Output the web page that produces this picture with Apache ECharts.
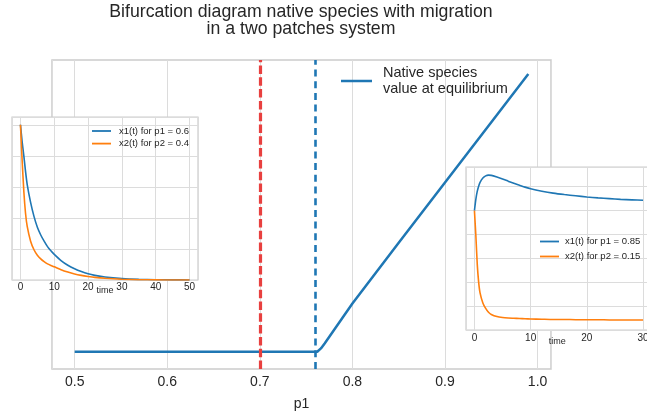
<!DOCTYPE html>
<html>
<head>
<meta charset="utf-8">
<script src="https://cdn.jsdelivr.net/npm/echarts@6/dist/echarts.min.js"></script>
<style>
html,body{margin:0;padding:0;background:#fff;}
#chart{width:647px;height:411px;}
</style>
</head>
<body>
<div id="chart"></div>
<script>
// ---- Main bifurcation data ----
const p1Values = [0.5, 0.55, 0.6, 0.65, 0.7, 0.75, 0.762, 0.766, 0.77, 0.8, 0.85, 0.9, 0.95, 0.99];
const equilibriumValues = [0, 0, 0, 0, 0, 0, 0, 0.012, 0.03, 0.174, 0.392, 0.609, 0.826, 1.0];
const mainTicks = [0.5, 0.6, 0.7, 0.8, 0.9, 1.0];
const redThreshold = 0.7;
const blueThreshold = 0.762;

// ---- Left inset (p1 = 0.6, p2 = 0.4) ----
const leftTime = [0, 0.5, 1, 1.5, 2, 3, 4, 5, 6, 7, 8, 9, 10, 12, 14, 16, 18, 20, 22, 25, 30, 35, 40, 45, 50];
const leftX1 = [1.0, 0.89, 0.80, 0.70, 0.615, 0.50, 0.41, 0.34, 0.29, 0.25, 0.215, 0.188, 0.165, 0.125, 0.095, 0.072, 0.054, 0.04, 0.03, 0.019, 0.009, 0.004, 0.002, 0.001, 0];
const leftX2 = [1.0, 0.77, 0.57, 0.43, 0.345, 0.25, 0.195, 0.16, 0.136, 0.118, 0.104, 0.094, 0.085, 0.066, 0.051, 0.039, 0.03, 0.023, 0.017, 0.011, 0.005, 0.002, 0.001, 0, 0];
const leftTicks = [0, 10, 20, 30, 40, 50];

// ---- Right inset (p1 = 0.85, p2 = 0.15) ----
const rightTime = [0, 0.25, 0.5, 0.75, 1, 1.5, 2, 2.5, 3, 4, 5, 6, 7, 8, 9, 10, 12, 14, 16, 18, 20, 22, 24, 26, 28, 30];
const rightX1 = [0.498, 0.545, 0.578, 0.600, 0.616, 0.634, 0.643, 0.646, 0.645, 0.638, 0.630, 0.621, 0.612, 0.604, 0.596, 0.589, 0.579, 0.571, 0.565, 0.560, 0.555, 0.551, 0.548, 0.545, 0.543, 0.541];
const rightX2 = [0.498, 0.395, 0.275, 0.20, 0.155, 0.113, 0.09, 0.074, 0.065, 0.056, 0.052, 0.05, 0.049, 0.048, 0.047, 0.046, 0.045, 0.044, 0.044, 0.043, 0.043, 0.043, 0.042, 0.042, 0.042, 0.042];
const rightTicks = [0, 10, 20, 30];

const seriesNames = {
  main: 'Native species\nvalue at equilibrium',
  l1: 'x1(t) for p1 = 0.6',
  l2: 'x2(t) for p2 = 0.4',
  r1: 'x1(t) for p1 = 0.85',
  r2: 'x2(t) for p2 = 0.15'
};

const BLUE = '#1f77b4';
const ORANGE = '#ff7f0e';
const RED = '#e8403f';
const TXT = '#262626';
const FONT = '"Liberation Sans", Arial, Helvetica, sans-serif';
const GRIDC = '#dcdcdc';
const EDGE = '#cccccc';

const zip = (xs, ys) => xs.map((x, i) => [x, ys[i]]);

const chart = echarts.init(document.getElementById('chart'), null, {renderer: 'canvas'});

const option = {
  animation: false,
  backgroundColor: '#ffffff',
  textStyle: {fontFamily: FONT, color: TXT},
  title: {
    text: 'Bifurcation diagram native species with migration\nin a two patches system',
    left: 301,
    top: 3,
    padding: 0,
    textAlign: 'center',
    textStyle: {fontFamily: FONT, fontSize: 17.7, fontWeight: 'normal', color: TXT, lineHeight: 17.5}
  },
  legend: [
    {
      data: [seriesNames.main],
      left: 341, top: 65, padding: 0,
      icon: 'rect', itemWidth: 31, itemHeight: 2.5,
      textStyle: {fontFamily: FONT, fontSize: 14.5, color: TXT, lineHeight: 16, padding: [0, 0, 0, 6]},
      z: 10
    },
    {
      data: [seriesNames.l1, seriesNames.l2],
      orient: 'vertical',
      left: 92, top: 125.5, padding: 0, itemGap: 1.6,
      icon: 'rect', itemWidth: 19, itemHeight: 1.8,
      textStyle: {fontFamily: FONT, fontSize: 9.5, color: TXT, lineHeight: 11, padding: [0, 0, 0, 3]},
      z: 10
    },
    {
      data: [seriesNames.r1, seriesNames.r2],
      orient: 'vertical',
      left: 540, top: 236, padding: 0, itemGap: 4,
      icon: 'rect', itemWidth: 19, itemHeight: 1.8,
      textStyle: {fontFamily: FONT, fontSize: 9.5, color: TXT, lineHeight: 11, padding: [0, 0, 0, 1]},
      z: 10
    }
  ],
  grid: [
    {left: 52, top: 60, width: 499, height: 309, outerBoundsMode: 'none', containLabel: false, show: true, backgroundColor: '#ffffff', borderColor: EDGE, borderWidth: 1.5, z: 0},
    {left: 12, top: 117, width: 186, height: 163, outerBoundsMode: 'none', containLabel: false, show: true, backgroundColor: '#ffffff', borderColor: EDGE, borderWidth: 1.2, z: 5},
    {left: 466, top: 167, width: 185.5, height: 163, outerBoundsMode: 'none', containLabel: false, show: true, backgroundColor: '#ffffff', borderColor: EDGE, borderWidth: 1.2, z: 5}
  ],
  xAxis: [
    {
      gridIndex: 0, type: 'value', min: 0.4755, max: 1.0145, splitNumber: 5,
      axisLine: {show: false}, axisTick: {show: false},
      axisLabel: {customValues: mainTicks, formatter: v => Number(v).toFixed(1), fontSize: 14, color: TXT, margin: 6, fontFamily: FONT},
      splitLine: {show: true, lineStyle: {color: GRIDC, width: 1}},
      name: 'p1', nameLocation: 'middle', nameGap: 28, nameMoveOverlap: false,
      nameTextStyle: {fontSize: 14, color: TXT, fontFamily: FONT}
    },
    {
      gridIndex: 1, type: 'value', min: -2.5, max: 52.5, splitNumber: 5, z: 5,
      axisLine: {show: false}, axisTick: {show: false},
      axisLabel: {customValues: leftTicks, fontSize: 10, color: TXT, margin: 2, fontFamily: FONT},
      splitLine: {show: true, lineStyle: {color: GRIDC, width: 1}},
      name: 'time', nameLocation: 'middle', nameGap: 6.5, nameMoveOverlap: false,
      nameTextStyle: {fontSize: 9, color: TXT, fontFamily: FONT}
    },
    {
      gridIndex: 2, type: 'value', min: -1.5, max: 31.5, splitNumber: 3, z: 5,
      axisLine: {show: false}, axisTick: {show: false},
      axisLabel: {customValues: rightTicks, fontSize: 10, color: TXT, margin: 3, fontFamily: FONT},
      splitLine: {show: true, lineStyle: {color: GRIDC, width: 1}},
      name: 'time', nameLocation: 'middle', nameGap: 7.5, nameMoveOverlap: false,
      nameTextStyle: {fontSize: 9, color: TXT, fontFamily: FONT, padding: [0, 3, 0, 0]}
    }
  ],
  yAxis: [
    {
      gridIndex: 0, type: 'value', min: -0.062, max: 1.05,
      axisLine: {show: false}, axisTick: {show: false}, axisLabel: {show: false},
      splitLine: {show: false}
    },
    {
      gridIndex: 1, type: 'value', min: 0, max: 1.05, interval: 0.2, z: 5,
      axisLine: {show: false}, axisTick: {show: false}, axisLabel: {show: false},
      splitLine: {show: true, lineStyle: {color: GRIDC, width: 1}}
    },
    {
      gridIndex: 2, type: 'value', min: 0, max: 0.68, interval: 0.1, z: 5,
      axisLine: {show: false}, axisTick: {show: false}, axisLabel: {show: false},
      splitLine: {show: true, lineStyle: {color: GRIDC, width: 1}}
    }
  ],
  series: [
    {
      name: seriesNames.main, type: 'line', xAxisIndex: 0, yAxisIndex: 0,
      data: zip(p1Values, equilibriumValues),
      symbol: 'none', smooth: false, z: 2,
      itemStyle: {color: BLUE},
      lineStyle: {color: BLUE, width: 2.5},
      markLine: {
        silent: true, symbol: ['none', 'none'], label: {show: false}, z: 3,
        data: [
          {xAxis: redThreshold, lineStyle: {color: RED, width: 3.2, type: [8.5, 3.3]}},
          {xAxis: blueThreshold, lineStyle: {color: BLUE, width: 2.6, type: [7, 4.7]}}
        ]
      }
    },
    {
      name: seriesNames.l1, type: 'line', xAxisIndex: 1, yAxisIndex: 1,
      data: zip(leftTime, leftX1), symbol: 'none', smooth: 0.2, z: 6,
      itemStyle: {color: BLUE}, lineStyle: {color: BLUE, width: 1.6}
    },
    {
      name: seriesNames.l2, type: 'line', xAxisIndex: 1, yAxisIndex: 1,
      data: zip(leftTime, leftX2), symbol: 'none', smooth: 0.2, z: 6,
      itemStyle: {color: ORANGE}, lineStyle: {color: ORANGE, width: 1.6}
    },
    {
      name: seriesNames.r1, type: 'line', xAxisIndex: 2, yAxisIndex: 2,
      data: zip(rightTime, rightX1), symbol: 'none', smooth: 0.2, z: 6,
      itemStyle: {color: BLUE}, lineStyle: {color: BLUE, width: 1.6}
    },
    {
      name: seriesNames.r2, type: 'line', xAxisIndex: 2, yAxisIndex: 2,
      data: zip(rightTime, rightX2), symbol: 'none', smooth: 0.2, z: 6,
      itemStyle: {color: ORANGE}, lineStyle: {color: ORANGE, width: 1.6}
    }
  ]
};

chart.setOption(option);
</script>
</body>
</html>
